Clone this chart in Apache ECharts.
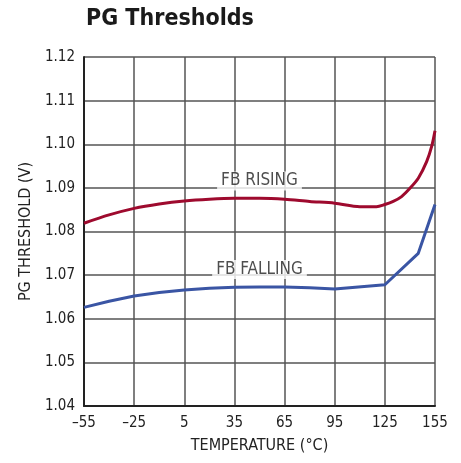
<!DOCTYPE html>
<html><head><meta charset="utf-8">
<script src="https://cdn.jsdelivr.net/npm/echarts@6/dist/echarts.min.js"></script>
<style>html,body{margin:0;padding:0;background:#fff}#c{width:461px;height:463px}</style>
</head><body><div id="c"></div>
<script>
const risingT = [-55, -40, -25, -10, 5, 20, 35, 50, 65, 80, 95, 110, 120, 125, 130, 135, 140, 145, 150, 153, 155];
const risingV = [1.0819, 1.0838, 1.0853, 1.0863, 1.0870, 1.0874, 1.0876, 1.0876, 1.0874, 1.0869, 1.0865, 1.0857, 1.0857, 1.0862, 1.0869, 1.0880, 1.0899, 1.0922, 1.0960, 1.0995, 1.1031];
const fallingT = [-55, -40, -25, -10, 5, 20, 35, 50, 65, 80, 95, 125, 145, 155];
const fallingV = [1.0626, 1.0640, 1.0652, 1.0660, 1.0666, 1.0670, 1.0672, 1.0673, 1.0673, 1.0671, 1.0668, 1.0678, 1.0750, 1.0862];
const xTicks = [-55, -25, 5, 35, 65, 95, 125, 155];
const labels = [{text: 'FB RISING', t: 50, v: 1.0916}, {text: 'FB FALLING', t: 50, v: 1.0713}];

const font = '"DejaVu Sans Condensed", "Liberation Sans Narrow", sans-serif';
const chart = echarts.init(document.getElementById('c'), null, {renderer: 'canvas'});
const zip = (a, b) => a.map((x, i) => [x, b[i]]);
chart.setOption({
  animation: false,
  title: {text: 'PG Thresholds', left: 81, top: 3, textStyle: {fontFamily: font, fontWeight: 'bold', fontSize: 23, color: '#1a1a1a'}},
  grid: {left: 84, right: 26, top: 57, bottom: 57},
  xAxis: {
    type: 'value', min: -55, max: 155, interval: 30,
    name: 'TEMPERATURE (°C)', nameLocation: 'middle', nameGap: 32,
    nameTextStyle: {fontFamily: font, fontSize: 16, color: '#222'},
    axisLine: {show: true, onZero: false, lineStyle: {color: '#222', width: 2}},
    axisTick: {show: false},
    axisLabel: {fontFamily: font, fontSize: 15, color: '#222', margin: 10, formatter: v => String(v).replace('-', '\u2013')},
    splitLine: {show: true, lineStyle: {color: '#555', width: 1.5}}
  },
  yAxis: {
    type: 'value', min: 1.04, max: 1.12, interval: 0.01,
    name: 'PG THRESHOLD (V)', nameLocation: 'middle', nameGap: 43,
    nameTextStyle: {fontFamily: font, fontSize: 16, color: '#222'},
    axisLine: {show: true, onZero: false, lineStyle: {color: '#222', width: 2}},
    axisTick: {show: false},
    axisLabel: {fontFamily: font, fontSize: 15, color: '#222', margin: 9, formatter: v => v.toFixed(2)},
    splitLine: {show: true, lineStyle: {color: '#555', width: 1.5}}
  },
  series: [
    {type: 'line', data: zip(risingT, risingV), smooth: 0.3, symbol: 'none', lineStyle: {color: '#9e0a2e', width: 3}, z: 3},
    {type: 'line', data: zip(fallingT, fallingV), smooth: false, symbol: 'none', lineStyle: {color: '#3a55a4', width: 3}, z: 3},
    {type: 'scatter', symbolSize: 0, z: 4,
      data: labels.map(l => ({value: [l.t, l.v], name: l.text})),
      label: {show: true, position: 'inside', formatter: p => p.name, fontFamily: font, fontSize: 17, color: '#222', backgroundColor: '#fff', padding: [1, 4]}}
  ]
});
</script></body></html>
